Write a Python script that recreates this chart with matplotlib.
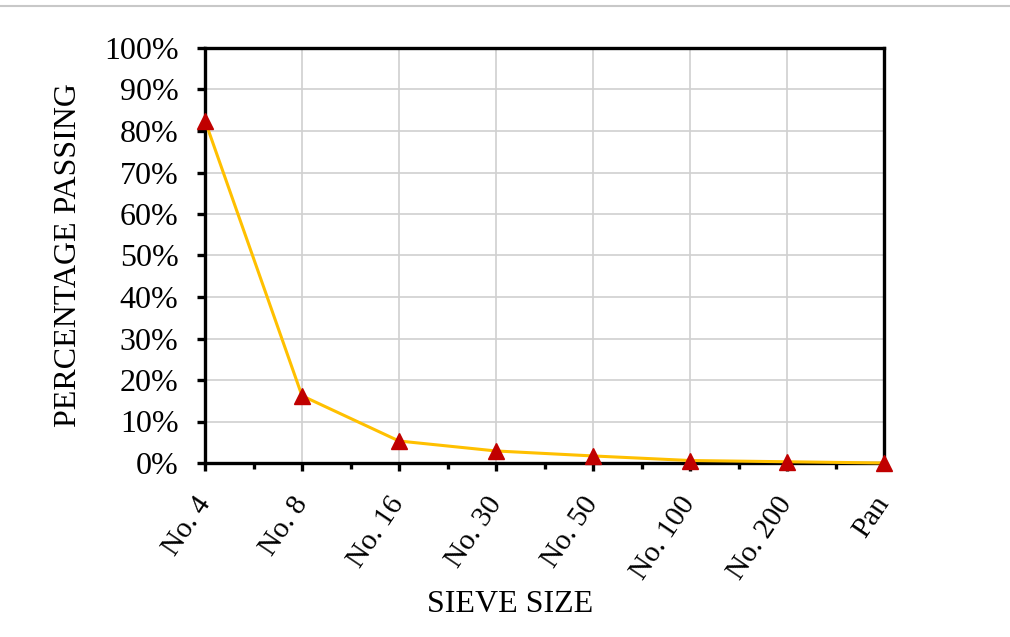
import matplotlib.pyplot as plt
from matplotlib.ticker import PercentFormatter, MultipleLocator, FixedLocator

sieves = ["No. 4", "No. 8", "No. 16", "No. 30", "No. 50", "No. 100", "No. 200", "Pan"]
passing = [82.5, 16.2, 5.3, 2.9, 1.7, 0.6, 0.3, 0.0]

plt.rcParams["font.family"] = ["Liberation Serif", "DejaVu Serif"]

fig = plt.figure(figsize=(10.1, 6.37), dpi=100)
ax = fig.add_axes([205 / 1010, 1 - 463 / 637, 679 / 1010, 415 / 637])

x = list(range(len(sieves)))
ax.plot(x, passing, color="#FFC000", lw=2.2, zorder=3, clip_on=False)
ax.plot(x, passing, ls="none", marker="^", ms=11, color="#C00000", zorder=4, clip_on=False)

ax.set_xlim(0, len(sieves) - 1)
ax.set_ylim(0, 100)
ax.yaxis.set_major_locator(MultipleLocator(10))
ax.yaxis.set_major_formatter(PercentFormatter(decimals=0))
ax.set_xticks(x)
ax.set_xticklabels(sieves, rotation=56, ha="right", va="center", rotation_mode="anchor")
ax.xaxis.set_minor_locator(FixedLocator([i + 0.5 for i in x[:-1]]))

ax.grid(color="#d0d0d0", lw=1.2)
ax.set_axisbelow(True)
for s in ax.spines.values():
    s.set_linewidth(2.4)
ax.tick_params(axis="y", which="major", direction="out", length=6, width=2.4, labelsize=23, pad=13)
ax.tick_params(axis="x", which="major", direction="out", length=6, width=2.4, labelsize=21, pad=20)
ax.tick_params(axis="x", which="minor", direction="out", length=4.5, width=2.4)

ax.set_xlabel("SIEVE SIZE", fontsize=23)
ax.xaxis.set_label_coords((510 - 205) / 679, -(590 - 463) / 415)
ax.set_ylabel("PERCENTAGE PASSING", fontsize=23)
ax.yaxis.set_label_coords(-(205 - 83) / 679, 0.5)

fig.add_artist(plt.Line2D([0, 1], [1 - 6 / 637, 1 - 6 / 637], color="#c8c8c8", lw=1.5))

fig.savefig("out.png", dpi=100)
